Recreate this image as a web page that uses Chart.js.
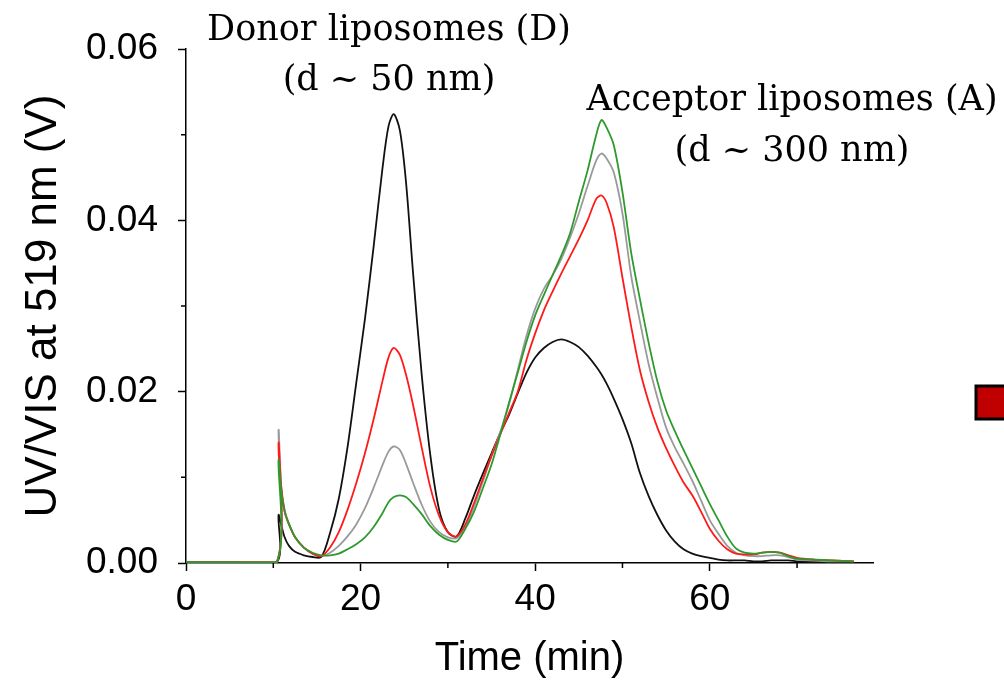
<!DOCTYPE html>
<html>
<head>
<meta charset="utf-8">
<script src="https://cdn.jsdelivr.net/npm/chart.js@4"></script>
<style>
  html, body { margin: 0; padding: 0; background: #fff; }
  #wrap { width: 1004px; height: 685px; position: relative; }
</style>
</head>
<body>
<div id="wrap"><canvas id="sec-chart"></canvas></div>
<script>
// elution time (min)
var times = [0, 5, 10.4, 10.6, 10.9, 11.3, 11.8, 12.5, 13.5, 14.5, 15.5, 16.5, 17.5, 18.5, 19.5, 20.5,
  21.5, 22.5, 23.2, 23.8, 24.5, 25.2, 26, 27, 28, 29, 30, 31, 32, 33, 34, 35, 36, 37, 38, 39, 40,
  41, 42, 43, 44, 45, 46, 47, 47.6, 48.2, 49, 50, 51, 52, 53, 54, 55, 56, 57, 58, 59, 60,
  61, 62, 63, 64, 65, 66, 67, 68, 69, 70, 72, 74, 76.5];

var blackTrace = [0.0001, 0.0001, 0.0001, 0.0056, 0.0045, 0.003, 0.002, 0.0013, 0.0009, 0.0007, 0.0007, 0.0035, 0.0075, 0.0135, 0.021, 0.0285,
  0.037, 0.046, 0.051, 0.0524, 0.0505, 0.0445, 0.034, 0.022, 0.0125, 0.0062, 0.0036, 0.0031, 0.0052, 0.0079, 0.0104, 0.0128, 0.0152, 0.0173, 0.0198, 0.0222, 0.0240,
  0.0251, 0.0258, 0.0261, 0.0258, 0.0252, 0.0242, 0.0229, 0.0220, 0.0209, 0.0192, 0.0168, 0.0140, 0.0105, 0.0078, 0.0056, 0.0038, 0.0025, 0.0016, 0.0011, 0.0008, 0.0006,
  0.0004, 0.0003, 0.0003, 0.0003, 0.0002, 0.0002, 0.0003, 0.0003, 0.0003, 0.0002, 0.0001, 0.0001, 0.0001];

var grayTrace = [0.0001, 0.0001, 0.0001, 0.0155, 0.009, 0.0062, 0.0046, 0.003, 0.0018, 0.0011, 0.0008, 0.0012, 0.0020, 0.0031, 0.0045, 0.0064,
  0.0088, 0.0114, 0.0130, 0.0136, 0.0132, 0.0116, 0.0094, 0.0068, 0.0048, 0.0036, 0.0030, 0.0029, 0.0042, 0.0066, 0.0095, 0.0125, 0.0153, 0.0185, 0.0225, 0.0265, 0.0297,
  0.0320, 0.0336, 0.0355, 0.0380, 0.0408, 0.0440, 0.0470, 0.0478, 0.0472, 0.0456, 0.0408, 0.0335, 0.0282, 0.0232, 0.0193, 0.0158, 0.0135, 0.0116, 0.0096, 0.0073, 0.0050,
  0.0034, 0.0020, 0.0012, 0.0009, 0.0008, 0.0008, 0.0009, 0.0009, 0.0007, 0.0004, 0.0003, 0.0002, 0.0002];

var redTrace = [0.0001, 0.0001, 0.0001, 0.014, 0.009, 0.006, 0.0045, 0.003, 0.0018, 0.0011, 0.0008, 0.0018, 0.0036, 0.0062, 0.0093, 0.0128,
  0.0168, 0.0212, 0.0240, 0.0251, 0.0243, 0.022, 0.0185, 0.0135, 0.0088, 0.0055, 0.0036, 0.0031, 0.0045, 0.007, 0.0098, 0.0125, 0.015, 0.0175, 0.0200, 0.0237, 0.0268,
  0.0295, 0.0317, 0.0338, 0.0358, 0.0378, 0.0400, 0.0425, 0.0429, 0.0420, 0.0392, 0.0333, 0.0276, 0.0225, 0.0188, 0.0158, 0.0134, 0.0113, 0.0094, 0.0079, 0.0060, 0.0040,
  0.0026, 0.0016, 0.0011, 0.0010, 0.0010, 0.0012, 0.0013, 0.0012, 0.0009, 0.0006, 0.0004, 0.0003, 0.0002];

var greenTrace = [0.0001, 0.0001, 0.0001, 0.012, 0.0085, 0.006, 0.0045, 0.003, 0.0018, 0.0012, 0.0009, 0.0009, 0.0011, 0.0016, 0.0022, 0.0030,
  0.0042, 0.0058, 0.0071, 0.0077, 0.0079, 0.0077, 0.0069, 0.0057, 0.0043, 0.0033, 0.0027, 0.0025, 0.0040, 0.0060, 0.0087, 0.0115, 0.0150, 0.0187, 0.0222, 0.0258, 0.0289,
  0.0313, 0.0336, 0.0359, 0.0385, 0.0422, 0.0458, 0.0500, 0.0517, 0.0508, 0.0488, 0.0433, 0.0362, 0.0308, 0.0257, 0.0212, 0.0178, 0.0154, 0.0132, 0.0111, 0.0090, 0.0069,
  0.0050, 0.0031, 0.0017, 0.0012, 0.0011, 0.0012, 0.0013, 0.0012, 0.0008, 0.0005, 0.0004, 0.0003, 0.0002];

var xTickValues = [0, 10, 20, 30, 40, 50, 60, 70];
var xTickLabels = ['0', '', '20', '', '40', '', '60', ''];
var yTickValues = [0, 0.01, 0.02, 0.03, 0.04, 0.05, 0.06];
var yTickLabels = ['0.00', '', '0.02', '', '0.04', '', '0.06'];

var peakNotes = [
  { lines: ['Donor liposomes (D)', '(d ~ 50 nm)'], x: 389, y: [40, 90] },
  { lines: ['Acceptor liposomes (A)', '(d ~ 300 nm)'], x: 792, y: [110, 161] }
];

function pts(vals) {
  return vals.map(function (v, i) { return { x: times[i], y: v }; });
}

function line(label, vals, color) {
  return {
    label: label,
    data: pts(vals),
    borderColor: color,
    borderWidth: 1.8,
    pointRadius: 0,
    tension: 0.3,
    fill: false
  };
}

// unlabelled ticks are drawn shorter, like the original minor ticks
function majorOnly(labels) {
  return function (c) { return labels[c.index] ? '#000' : 'rgba(0,0,0,0)'; };
}

var extras = {
  id: 'extras',
  afterDraw: function (chart) {
    var ctx = chart.ctx;
    var xs = chart.scales.x, ys = chart.scales.y;
    ctx.save();
    ctx.strokeStyle = '#000';
    ctx.lineWidth = 1.5;
    ctx.beginPath();
    xTickValues.forEach(function (v, i) {
      if (xTickLabels[i]) return;
      var px = xs.getPixelForValue(v);
      ctx.moveTo(px, ys.bottom);
      ctx.lineTo(px, ys.bottom + 5);
    });
    yTickValues.forEach(function (v, i) {
      if (yTickLabels[i]) return;
      var py = ys.getPixelForValue(v);
      ctx.moveTo(xs.left, py);
      ctx.lineTo(xs.left - 5, py);
    });
    ctx.stroke();

    ctx.fillStyle = '#000';
    ctx.textAlign = 'center';
    ctx.textBaseline = 'alphabetic';
    ctx.font = '35px "DejaVu Serif"';
    peakNotes.forEach(function (n) {
      n.lines.forEach(function (t, i) { ctx.fillText(t, n.x, n.y[i]); });
    });

    // legend swatch cut by the right edge
    ctx.fillStyle = '#c00000';
    ctx.fillRect(976, 386, 40, 33);
    ctx.lineWidth = 3;
    ctx.strokeRect(976, 386, 40, 33);
    ctx.restore();
  }
};

Chart.defaults.font.family = '"Liberation Sans", Arial, sans-serif';
Chart.defaults.color = '#000';

var ctx = document.getElementById('sec-chart').getContext('2d');
var myChart = new Chart(ctx, {
  type: 'line',
  data: {
    datasets: [
      line('green', greenTrace, '#2e9a2e'),
      line('red', redTrace, '#ff1a1a'),
      line('gray', grayTrace, '#9a9a9a'),
      line('black', blackTrace, '#111111')
    ]
  },
  options: {
    responsive: true,
    maintainAspectRatio: false,
    animation: false,
    layout: { padding: { left: 0, right: 131, top: 49, bottom: 0 } },
    plugins: {
      legend: { display: false },
      tooltip: { enabled: false }
    },
    scales: {
      x: {
        type: 'linear',
        min: 0,
        max: 78.7,
        afterBuildTicks: function (axis) {
          axis.ticks = xTickValues.map(function (v) { return { value: v }; });
        },
        afterFit: function (axis) { axis.height = 122; },
        ticks: {
          font: { size: 37 },
          padding: 7,
          maxRotation: 0,
          autoSkip: false,
          callback: function (v, i) { return xTickLabels[i]; }
        },
        grid: { drawOnChartArea: false, tickLength: 8, tickColor: majorOnly(xTickLabels), tickWidth: 1.5 },
        border: { color: '#000', width: 1.5 },
        title: { display: true, text: 'Time (min)', font: { size: 40 }, padding: { top: 0, bottom: 2 } }
      },
      y: {
        min: 0,
        max: 0.06,
        afterBuildTicks: function (axis) {
          axis.ticks = yTickValues.map(function (v) { return { value: v }; });
        },
        afterFit: function (axis) { axis.width = 186; },
        ticks: {
          font: { size: 37 },
          padding: 20,
          autoSkip: false,
          callback: function (v, i) { return yTickLabels[i]; }
        },
        grid: { drawOnChartArea: false, tickLength: 8, tickColor: majorOnly(yTickLabels), tickWidth: 1.5 },
        border: { color: '#000', width: 1.5 },
        title: { display: true, text: 'UV/VIS at 519 nm (V)', font: { size: 44 }, padding: { top: 17, bottom: 0 } }
      }
    }
  },
  plugins: [extras]
});
</script>
</body>
</html>
